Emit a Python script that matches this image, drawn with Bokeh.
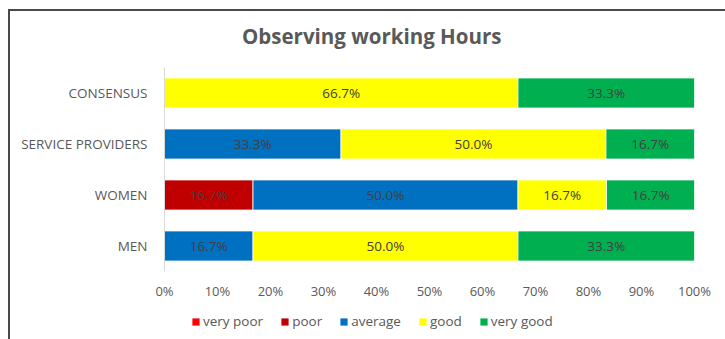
from bokeh.plotting import figure
from bokeh.layouts import column
from bokeh.models import ColumnDataSource, FactorRange, NumeralTickFormatter, Legend, LegendItem, FixedTicker, Label
from bokeh.core.properties import value
from bokeh.embed import file_html
from bokeh.resources import INLINE

categories = ["MEN", "WOMEN", "SERVICE PROVIDERS", "CONSENSUS"]
series = ["very poor", "poor", "average", "good", "very good"]
very_poor = [0.0, 0.0, 0.0, 0.0]
poor = [0.0, 16.7, 0.0, 0.0]
average = [16.7, 50.0, 33.3, 0.0]
good = [50.0, 16.7, 50.0, 66.7]
very_good = [33.3, 16.7, 16.7, 33.3]
colors = ["#FF0000", "#C00000", "#0070C0", "#FFFF00", "#00B050"]
x_ticks = [0, 0.1, 0.2, 0.3, 0.4, 0.5, 0.6, 0.7, 0.8, 0.9, 1.0]
title_text = "Observing working Hours"

FONT = "Open Sans"
values = [very_poor, poor, average, good, very_good]
data = {"cat": categories}
for name, vals in zip(series, values):
    data[name] = [v / 100 for v in vals]
source = ColumnDataSource(data)


def strip(height, x_range, y_range):
    s = figure(width=715, height=height, x_range=x_range, y_range=y_range,
               output_backend="svg", toolbar_location=None,
               min_border_left=0, min_border_right=0, min_border_top=0, min_border_bottom=0,
               x_axis_location=None, y_axis_location=None)
    s.outline_line_color = None
    s.xgrid.grid_line_color = None
    s.ygrid.grid_line_color = None
    s.border_fill_color = "white"
    return s


# title strip
p0 = strip(56, (0, 1), (0, 1))
p0.add_layout(Label(x=0.391, y=0.555, text=title_text, text_font=FONT, text_font_size="20.5px",
                    text_font_style="bold", text_color="#595959",
                    text_align="center", text_baseline="middle"))

# main chart
p = figure(width=715, height=235, y_range=FactorRange(*categories), x_range=(0, 1),
           output_backend="svg", toolbar_location=None,
           min_border_left=154, min_border_right=31, min_border_top=0, min_border_bottom=31)
p.outline_line_color = None
p.background_fill_color = "white"
p.border_fill_color = "white"

rends = p.hbar_stack(series, y="cat", height=0.59, color=colors, source=source,
                     line_color="white", line_width=0.8)

lx, ly, lt = [], [], []
for i, c in enumerate(categories):
    left = 0.0
    for vals in values:
        v = vals[i]
        if v > 0:
            lx.append(left / 100 + v / 200)
            ly.append(c)
            lt.append(f"{v:.1f}%")
        left += v
p.text(x=lx, y=ly, text=lt, text_align="center", text_baseline="middle",
       text_font=value(FONT), text_font_size="13.5px", text_color="#404040")

p.xgrid.grid_line_color = None
p.ygrid.grid_line_color = None
p.xaxis.ticker = FixedTicker(ticks=x_ticks)
p.xaxis.formatter = NumeralTickFormatter(format="0%")
p.xaxis.axis_line_color = None
p.xaxis.major_tick_line_color = None
p.xaxis.minor_tick_line_color = None
p.xaxis.major_label_text_font = FONT
p.xaxis.major_label_text_font_size = "13px"
p.xaxis.major_label_text_color = "#595959"
p.xaxis.major_label_standoff = 4

p.yaxis.axis_line_color = "#D9D9D9"
p.yaxis.major_tick_line_color = None
p.yaxis.minor_tick_line_color = None
p.yaxis.major_label_text_font = FONT
p.yaxis.major_label_text_font_size = "13.5px"
p.yaxis.major_label_text_color = "#595959"
p.yaxis.major_label_standoff = 11
p.y_range.range_padding = 0
p.y_range.factor_padding = 0

# legend strip (zero-height bars, only legend swatches show)
p2 = strip(37, (2, 3), FactorRange(*categories))
leg_rends = p2.hbar_stack(series, y="cat", height=0, fill_color=colors, line_color=None, source=source)
items = [LegendItem(label=s, renderers=[r]) for s, r in zip(series, leg_rends)]
legend = Legend(items=items, orientation="horizontal", location=(27, 9),
                glyph_width=9, glyph_height=9, label_standoff=3, spacing=17,
                label_text_font=FONT, label_text_font_size="13.5px", label_text_color="#595959",
                border_line_color=None, background_fill_alpha=0, padding=0, margin=0)
p2.add_layout(legend, "center")

layout = column(p0, p, p2, spacing=0)
layout.styles = {"border-top": "2px solid #4a4a4a", "border-left": "2px solid #4a4a4a"}
layout.margin = (9, 0, 0, 8)

open("out.html", "w").write(file_html(layout, INLINE))
